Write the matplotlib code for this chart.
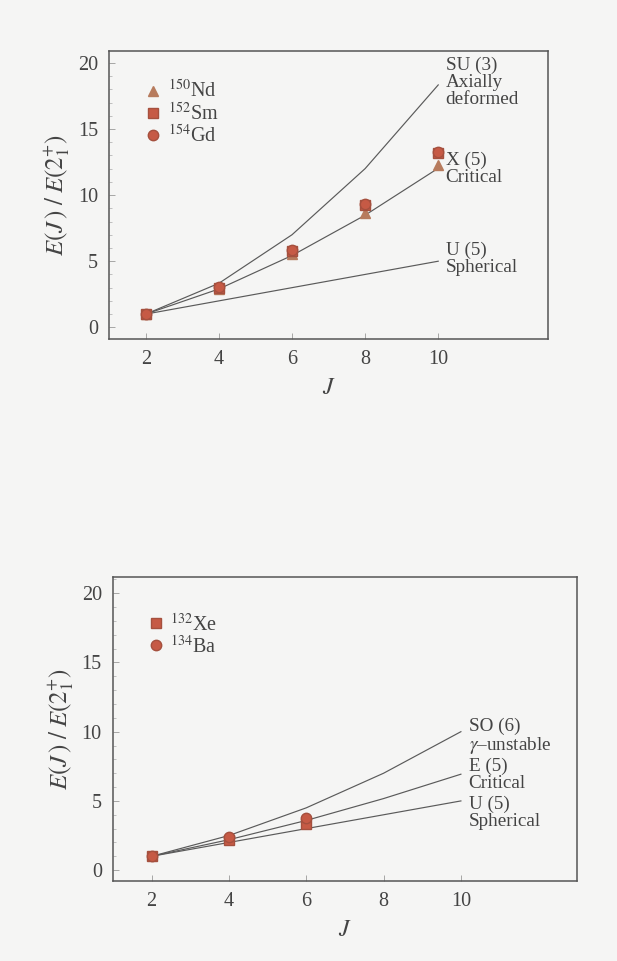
import matplotlib
matplotlib.use("Agg")
import matplotlib.pyplot as plt
from matplotlib.ticker import MultipleLocator

plt.rcParams['font.family'] = ['Liberation Serif', 'DejaVu Serif']
plt.rcParams['mathtext.fontset'] = 'stix'

# spin J
J = [2, 4, 6, 8, 10]
J_b = [2, 4, 6]

# upper panel: model curves
su3 = [1.0, 3.33, 7.0, 12.0, 18.33]
x5 = [1.0, 2.90, 5.43, 8.48, 12.03]
u5 = [1.0, 2.0, 3.0, 4.0, 5.0]

# upper panel: data
nd150 = [1.0, 2.93, 5.53, 8.68, 12.3]
sm152 = [1.0, 3.01, 5.80, 9.24, 13.2]
gd154 = [1.0, 3.02, 5.83, 9.29, 13.25]

# lower panel: model curves
so6 = [1.0, 2.5, 4.5, 7.0, 10.0]
e5 = [1.0, 2.20, 3.59, 5.17, 6.93]
u5_b = [1.0, 2.0, 3.0, 4.0, 5.0]

# lower panel: data
xe132 = [1.0, 2.2, 3.35]
ba134 = [1.0, 2.4, 3.75]

bg = '#f5f5f4'
line_c = '#5a5a5a'
red = '#c65a45'
red_edge = '#a5503e'
tan = '#b77b5d'

fig = plt.figure(figsize=(6.17, 9.61), dpi=100, facecolor=bg)
ax1 = fig.add_axes([0.177, 0.647, 0.711, 0.300])
ax2 = fig.add_axes([0.183, 0.083, 0.752, 0.317])


def style(ax, ylim):
    ax.set_facecolor(bg)
    ax.set_xlim(1, 13)
    ax.set_ylim(*ylim)
    ax.set_xticks([2, 4, 6, 8, 10])
    ax.set_yticks([0, 5, 10, 15, 20])
    ax.yaxis.set_minor_locator(MultipleLocator(1))
    ax.tick_params(direction='in', length=4, width=0.6, colors='#999999',
                   labelcolor='#444444', labelsize=14.5, pad=8)
    ax.tick_params(which='minor', direction='in', length=2, width=0.5, colors='#aaaaaa')
    for s in ax.spines.values():
        s.set_color('#555555')
        s.set_linewidth(1.1)
    ax.set_xlabel(r'$J$', fontsize=17, color='#444444', labelpad=6)
    ax.set_ylabel(r'$E(J\,)\;/\;E(2_1^{+})$', fontsize=18, color='#444444', labelpad=4)


mk = dict(markersize=7.5, markeredgewidth=1.0, linestyle='none')
lab = dict(fontsize=13.8, color='#444444', linespacing=1.0, va='top', ha='left')

# upper panel
for y in (su3, x5, u5):
    ax1.plot(J, y, color=line_c, lw=0.85)
ax1.plot(J, nd150, marker='^', color=tan, markeredgecolor=tan, label=r'$^{150}$Nd', **mk)
ax1.plot(J, sm152, marker='s', color=red, markeredgecolor=red_edge, label=r'$^{152}$Sm', **mk)
ax1.plot(J, gd154, marker='o', color=red, markeredgecolor=red_edge, label=r'$^{154}$Gd', **mk)
style(ax1, (-0.9, 20.9))
ax1.legend(loc='upper left', bbox_to_anchor=(0.055, 0.925), frameon=False,
           handletextpad=0.1, labelspacing=0.0, fontsize=14.5, handlelength=1.2,
           borderaxespad=0, labelcolor='#444444')
ax1.text(10.2, 20.5, 'SU (3)\nAxially\ndeformed', **lab)
ax1.text(10.2, 13.3, 'X (5)\nCritical', **lab)
ax1.text(10.2, 6.5, 'U (5)\nSpherical', **lab)

# lower panel
for y in (so6, e5, u5_b):
    ax2.plot(J, y, color=line_c, lw=0.85)
ax2.plot(J_b, xe132, marker='s', color=red, markeredgecolor=red_edge, label=r'$^{132}$Xe', **mk)
ax2.plot(J_b, ba134, marker='o', color=red, markeredgecolor=red_edge, label=r'$^{134}$Ba', **mk)
style(ax2, (-0.8, 21.2))
ax2.legend(loc='upper left', bbox_to_anchor=(0.05, 0.905), frameon=False,
           handletextpad=0.1, labelspacing=0.0, fontsize=14.5, handlelength=1.2,
           borderaxespad=0, labelcolor='#444444')
ax2.text(10.2, 11.0, 'SO (6)\n' + r'$\gamma$' + '\u2013unstable', **lab)
ax2.text(10.2, 8.1, 'E (5)\nCritical', **lab)
ax2.text(10.2, 5.4, 'U (5)\nSpherical', **lab)

fig.savefig('out.png', dpi=100, facecolor=bg)
